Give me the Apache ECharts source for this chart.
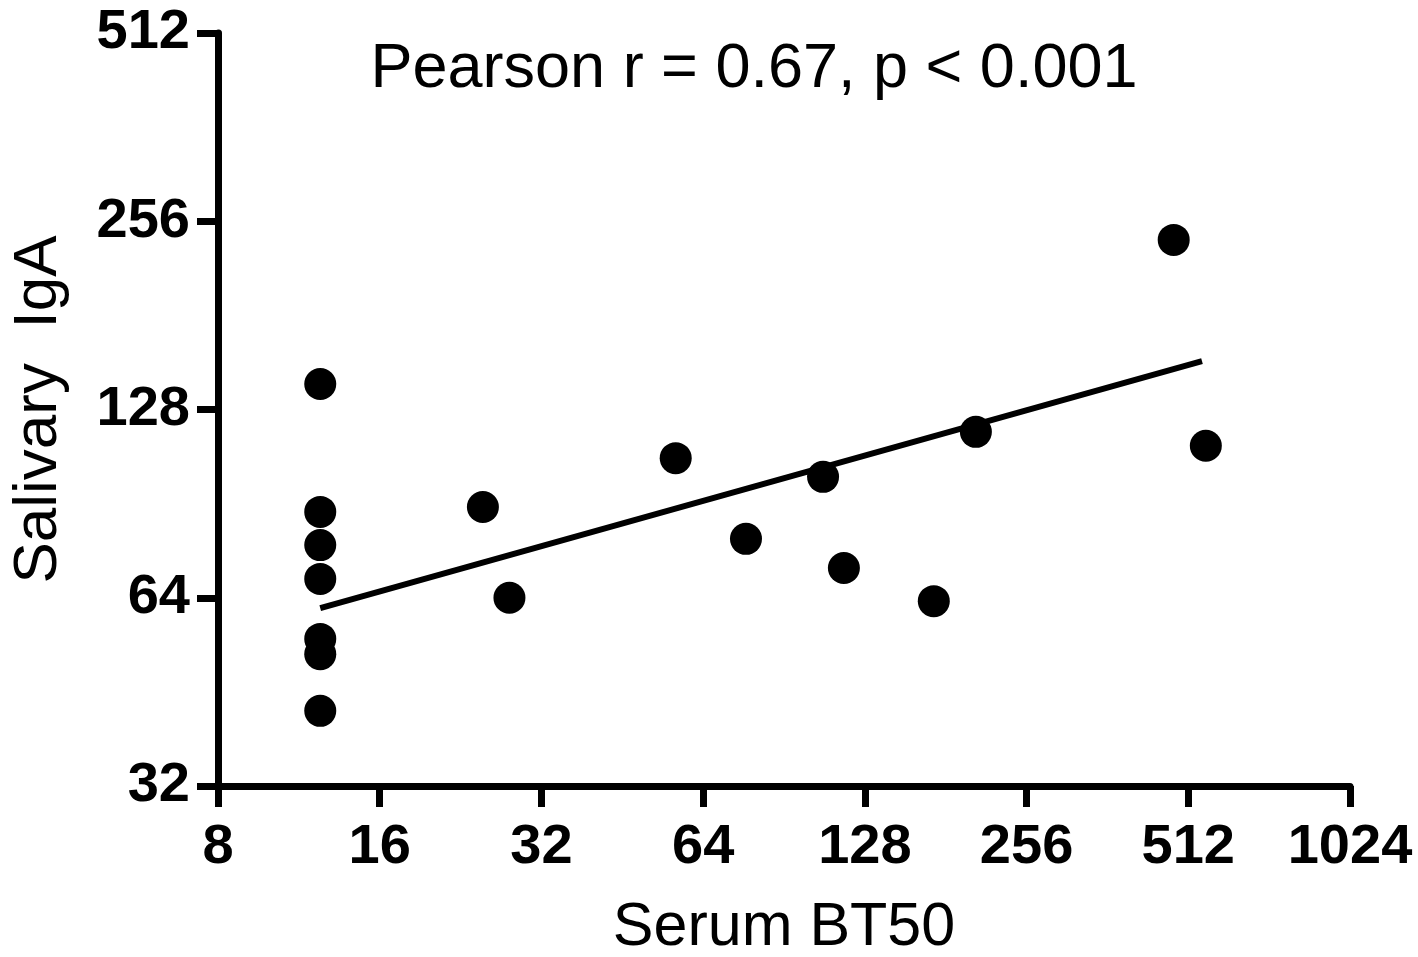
<!DOCTYPE html>
<html>
<head>
<meta charset="utf-8">
<script src="https://cdn.jsdelivr.net/npm/echarts@6/dist/echarts.min.js"></script>
<style>
  html, body { margin: 0; padding: 0; background: #fff; }
  #chart { width: 1418px; height: 957px; }
</style>
</head>
<body>
<div id="chart"></div>
<script>
// serum BT50 (x) and salivary IgA (y)
const serumBT50 = [12.4, 12.4, 12.4, 12.4, 12.4, 12.4, 12.4, 24.9, 27.9, 56.9, 76.9, 107, 117, 172, 206, 481, 552];
const salivaryIgA = [140.6, 87.8, 77.7, 68.6, 55.0, 52.0, 42.2, 89.4, 64, 107, 79.5, 99.9, 71.4, 63.2, 117.9, 239, 112];

// regression line end points
const fitX = [12.4, 543];
const fitY = [61.6, 153];

const statText = "Pearson r = 0.67, p < 0.001";

const myChart = echarts.init(document.getElementById("chart"));

const font = "Liberation Sans, Arial, sans-serif";

let option = {
  animation: false,
  grid: {
    left: 218,
    right: 68,
    top: 33,
    bottom: 171,
    outerBoundsMode: "none",
  },
  xAxis: {
    type: "log",
    logBase: 2,
    min: 8,
    max: 1024,
    name: "Serum BT50",
    nameLocation: "middle",
    nameGap: 112,
    nameTextStyle: { fontSize: 61, color: "#000", fontFamily: font },
    axisLine: { lineStyle: { color: "#000", width: 7 } },
    axisTick: { show: true, length: 21, lineStyle: { color: "#000", width: 7 } },
    minorTick: { show: false },
    splitLine: { show: false },
    axisLabel: {
      margin: 34,
      fontSize: 56,
      fontWeight: "bold",
      color: "#000",
      fontFamily: font,
      formatter: (v) => String(Math.round(v)),
    },
  },
  yAxis: {
    type: "log",
    logBase: 2,
    min: 32,
    max: 512,
    name: "Salivary  IgA",
    nameLocation: "middle",
    nameGap: 148,
    nameTextStyle: { fontSize: 62, color: "#000", fontFamily: font },
    axisLine: { lineStyle: { color: "#000", width: 7 } },
    axisTick: { show: true, length: 21, lineStyle: { color: "#000", width: 7 } },
    splitLine: { show: false },
    axisLabel: {
      margin: 28,
      fontSize: 56,
      fontWeight: "bold",
      color: "#000",
      fontFamily: font,
      formatter: (v) => String(Math.round(v)),
    },
  },
  graphic: [
    {
      type: "text",
      x: 754,
      y: 70,
      style: {
        text: statText,
        fill: "#000",
        font: "63px " + font,
        textAlign: "center",
        textVerticalAlign: "middle",
      },
    },
  ],
  series: [
    {
      name: "fit",
      type: "line",
      data: fitX.map((x, i) => [x, fitY[i]]),
      symbol: "none",
      lineStyle: { color: "#000", width: 6 },
      z: 2,
    },
    {
      name: "points",
      type: "scatter",
      data: serumBT50.map((x, i) => [x, salivaryIgA[i]]),
      symbol: "circle",
      symbolSize: 32,
      itemStyle: { color: "#000", opacity: 1 },
      z: 3,
    },
  ],
};

option && myChart.setOption(option);
</script>
</body>
</html>
